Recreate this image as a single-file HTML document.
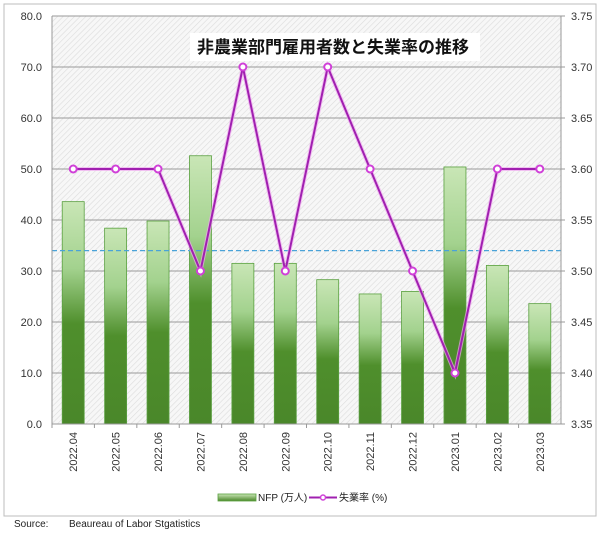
<!DOCTYPE html>
<html><head><meta charset="utf-8"><style>
body{margin:0;background:#fff;}
svg text{font-family:"Liberation Sans","Noto Sans CJK JP",sans-serif;}
</style></head><body>
<svg width="600" height="535" viewBox="0 0 600 535">
<defs>
<pattern id="hatch" width="4" height="4" patternUnits="userSpaceOnUse" patternTransform="rotate(45)">
<rect width="4" height="4" fill="#f7f7f7"/><line x1="0" y1="0" x2="0" y2="4" stroke="#dcdcdc" stroke-width="1.2"/>
</pattern>
<linearGradient id="barg" x1="0" y1="0" x2="0" y2="1">
<stop offset="0" stop-color="#c9e6b6"/><stop offset="0.3" stop-color="#a3d28e"/><stop offset="0.55" stop-color="#4f8f2c"/><stop offset="1" stop-color="#4a872a"/>
</linearGradient>
<linearGradient id="legg" x1="0" y1="0" x2="0" y2="1"><stop offset="0" stop-color="#c9e6b6"/><stop offset="1" stop-color="#4a872a"/></linearGradient>
</defs>
<rect x="4" y="4" width="592" height="512" fill="#fff" stroke="#bdbdbd"/>
<rect x="52" y="16" width="509" height="408" fill="url(#hatch)"/>
<g id="grid"></g>
<g id="bars"></g>
<line id="avg" stroke="#4aa3d8" stroke-width="1.3" stroke-dasharray="5,3"/>
<g id="line"></g>
<g id="axes"></g>
<rect x="190" y="33" width="290" height="28" fill="#fff"/>
<text x="333" y="53" text-anchor="middle" font-size="17" font-weight="bold" fill="#111">非農業部門雇用者数と失業率の推移</text>
<g>
<rect x="218" y="494" width="38" height="7" fill="url(#legg)" stroke="#5aa040" stroke-width="0.8"/>
<text x="258" y="501" font-size="10" fill="#222">NFP (万人)</text>
<line x1="309" y1="497.5" x2="337" y2="497.5" stroke="#a020b0" stroke-width="2"/>
<circle cx="323" cy="497.5" r="2.5" fill="#fff" stroke="#d040d8" stroke-width="1.5"/>
<text x="339" y="501" font-size="10" fill="#222">失業率 (%)</text>
</g>
<text x="14" y="527" font-size="10" fill="#222">Source:</text>
<text x="69" y="527" font-size="10" fill="#222">Beaureau of Labor Stgatistics</text>
</svg>
<script>
const categories=["2022.04","2022.05","2022.06","2022.07","2022.08","2022.09","2022.10","2022.11","2022.12","2023.01","2023.02","2023.03"];
const nfp=[43.6,38.4,39.8,52.6,31.5,31.5,28.3,25.5,26.0,50.4,31.1,23.6];
const rate=[3.6,3.6,3.6,3.5,3.7,3.5,3.7,3.6,3.5,3.4,3.6,3.6];
const avgValue=34;
const leftTicks=[0,10,20,30,40,50,60,70,80];
const rightTicks=[3.35,3.40,3.45,3.50,3.55,3.60,3.65,3.70,3.75];
const NS="http://www.w3.org/2000/svg";
const X0=52,X1=561,Y0=424,Y1=16;
const band=(X1-X0)/categories.length;
const xc=i=>X0+band*(i+0.5);
const yL=v=>Y0-(v/80)*(Y0-Y1);
const yR=v=>Y0-((v-3.35)/0.4)*(Y0-Y1);
function mk(tag,attrs,parent){const e=document.createElementNS(NS,tag);for(const k in attrs)e.setAttribute(k,attrs[k]);parent.appendChild(e);return e;}
const grid=document.getElementById('grid'),bars=document.getElementById('bars'),line=document.getElementById('line'),axes=document.getElementById('axes');
leftTicks.forEach((t,i)=>{
  if(t>0){const g=mk('line',{x1:X0,x2:X1,y1:yL(t),y2:yL(t),stroke:'#9a9a9a','stroke-width':1},grid);
  
  }
  const tx=mk('text',{x:X0-10,y:yL(t)+4,'text-anchor':'end','font-size':11,fill:'#333'},axes);tx.textContent=t.toFixed(1);
  
  
});
rightTicks.forEach(t=>{
  const tx=mk('text',{x:X1+10,y:yR(t)+4,'font-size':11,fill:'#333'},axes);tx.textContent=t.toFixed(2);
  
  
  mk('line',{x1:X1,x2:X1+4,y1:yR(t),y2:yR(t),stroke:'#999'},axes);
});
mk('line',{x1:X0,x2:X0,y1:Y1,y2:Y0,stroke:'#999'},axes);
mk('line',{x1:X1,x2:X1,y1:Y1,y2:Y0,stroke:'#999'},axes);
mk('line',{x1:X0,x2:X1,y1:Y0,y2:Y0,stroke:'#999'},axes);
categories.forEach((c,i)=>{
  const b=mk('rect',{x:xc(i)-11,y:yL(nfp[i]),width:22,height:Y0-yL(nfp[i]),fill:'url(#barg)',stroke:'#5aa040','stroke-width':0.8},bars);
  
  
  mk('line',{x1:X0+band*i,x2:X0+band*i,y1:Y0,y2:Y0+4,stroke:'#999'},axes);
  const tx=mk('text',{x:0,y:0,'font-size':11,fill:'#333','text-anchor':'end',transform:`translate(${xc(i)+4},${Y0+8}) rotate(-90)`},axes);
  tx.textContent=c;
  
  
});
const av=document.getElementById('avg');
av.setAttribute('x1',X0);av.setAttribute('x2',X1);av.setAttribute('y1',yL(avgValue));av.setAttribute('y2',yL(avgValue));
const pts=rate.map((v,i)=>xc(i)+','+yR(v)).join(' ');
const glow=mk('polyline',{points:pts,fill:'none',stroke:'#f0a8f0','stroke-width':4,'stroke-opacity':0.7},line);


const pl=mk('polyline',{points:pts,fill:'none',stroke:'#a020b0','stroke-width':2},line);


rate.forEach((v,i)=>{
  const c=mk('circle',{cx:xc(i),cy:yR(v),r:3.5,fill:'#fff',stroke:'#d040d8','stroke-width':2},line);
  
  
});
</script>
</body></html>
